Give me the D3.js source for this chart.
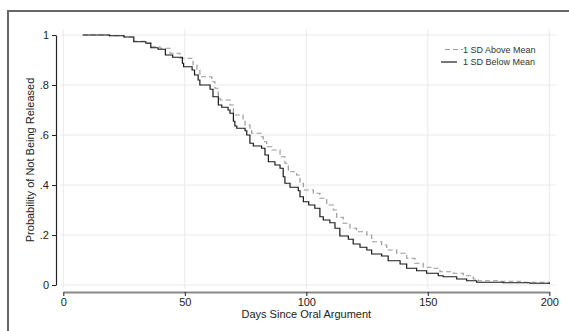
<!DOCTYPE html>
<html lang="en">
<head>
<meta charset="utf-8">
<title>Survival curves</title>
<script src="https://cdn.jsdelivr.net/npm/d3@7"></script>
<style>
body { margin: 0; background: #fff; }
svg { display: block; font-family: "Liberation Sans", Arial, sans-serif; }
</style>
</head>
<body>
<script>
var width = 569, height = 331;

// step points: day, probability of not being released
var aboveDays = [8,19,25,29,34,36,39.8,43.9,48,53.4,55,56.2,61.1,62.4,63.8,64.5,68.6,70,74,74.8,76.8,77.5,81.6,82.3,83.7,85.8,89.2,91.2,92.6,96,97.4,98.8,102.9,105.6,108.4,111.1,112.5,115.2,118,120.7,124.9,126.9,131,133.1,137.2,141.3,144.7,148.1,151.6,155,160.5,164.6,168.7,170.8,179.7,188,200];
var aboveProb = [1,0.997,0.992,0.975,0.969,0.953,0.947,0.927,0.907,0.88,0.86,0.833,0.813,0.787,0.753,0.74,0.72,0.68,0.66,0.64,0.62,0.607,0.593,0.573,0.553,0.54,0.513,0.487,0.453,0.44,0.407,0.38,0.367,0.347,0.32,0.30,0.271,0.247,0.227,0.213,0.20,0.173,0.16,0.14,0.127,0.107,0.087,0.071,0.067,0.053,0.047,0.037,0.024,0.017,0.015,0.011,0.004];

var belowDays = [8,19,25,29,34,36,39,42,45,49,49.5,53,54,55.5,56.2,60.4,61.6,63.8,65.2,67.8,68.6,70,70.6,71.4,74.8,75.5,76.8,78.2,81.6,83,84.4,87.1,89.2,90.5,91.2,93.3,96.7,97.4,98.8,101,103.5,105.6,107,109.7,111.8,113.8,117.3,119.3,122.1,124.9,126.9,131,133.7,138.6,141.3,145.4,149.5,154.3,156.3,161.9,166,170.1,181,192,200];
var belowProb = [1,0.997,0.992,0.973,0.967,0.949,0.943,0.92,0.911,0.887,0.873,0.86,0.84,0.82,0.80,0.783,0.753,0.72,0.711,0.70,0.687,0.655,0.636,0.627,0.617,0.60,0.567,0.556,0.547,0.52,0.493,0.48,0.467,0.433,0.407,0.391,0.377,0.353,0.333,0.32,0.307,0.273,0.26,0.249,0.227,0.196,0.183,0.164,0.151,0.14,0.124,0.116,0.097,0.084,0.067,0.057,0.047,0.037,0.033,0.024,0.017,0.011,0.009,0.007,0.004];

var xTicks = [0, 50, 100, 150, 200];
var yTicks = [0, 0.2, 0.4, 0.6, 0.8, 1];
var yTickLabels = ["0", ".2", ".4", ".6", ".8", "1"];
var seriesNames = ["1 SD Above Mean", "1 SD Below Mean"];

var svg = d3.select("body").append("svg")
    .attr("width", width).attr("height", height);

// outer frame (cut off at right and bottom)
svg.append("rect")
    .attr("x", 8).attr("y", 11).attr("width", 620).attr("height", 400)
    .attr("fill", "none").attr("stroke", "#666").attr("stroke-width", 2);

var x = d3.scaleLinear().domain([0, 200]).range([63.3, 549.3]);
var y = d3.scaleLinear().domain([0, 1]).range([285, 35]);

// grid
svg.append("g").selectAll("line").data(yTicks).join("line")
    .attr("x1", 60).attr("x2", 556)
    .attr("y1", d => y(d)).attr("y2", d => y(d))
    .attr("stroke", "#eaeaea").attr("stroke-width", 1);
svg.append("g").selectAll("line").data(xTicks).join("line")
    .attr("x1", d => x(d)).attr("x2", d => x(d))
    .attr("y1", 29).attr("y2", 289)
    .attr("stroke", "#eaeaea").attr("stroke-width", 1);

// axes
var yAxis = svg.append("g").attr("transform", "translate(56,0)")
    .call(d3.axisLeft(y).tickValues(yTicks).tickSize(4).tickSizeOuter(0).tickPadding(3)
        .tickFormat((d, i) => yTickLabels[i]));
yAxis.select(".domain").attr("stroke", "#222").attr("stroke-width", 1.2);
yAxis.selectAll(".tick line").attr("stroke", "#222");
yAxis.selectAll("text").attr("font-size", 11).attr("fill", "#222")
    .attr("font-family", "Liberation Sans, Arial, sans-serif");

var xAxis = svg.append("g").attr("transform", "translate(0,292)")
    .call(d3.axisBottom(x).tickValues(xTicks).tickSize(4).tickSizeOuter(0).tickPadding(2));
xAxis.select(".domain").attr("stroke", "#888").attr("stroke-width", 2);
xAxis.selectAll(".tick line").attr("stroke", "#222");
xAxis.selectAll("text").attr("font-size", 11).attr("fill", "#222")
    .attr("font-family", "Liberation Sans, Arial, sans-serif");

svg.append("text")
    .attr("x", x(100)).attr("y", 318)
    .attr("text-anchor", "middle").attr("font-size", 11).attr("fill", "#222")
    .text("Days Since Oral Argument");
svg.append("text")
    .attr("transform", "translate(34," + y(0.5) + ") rotate(-90)")
    .attr("text-anchor", "middle").attr("font-size", 11).attr("fill", "#222")
    .text("Probability of Not Being Released");

// curves
var line = d3.line().curve(d3.curveStepAfter).x(d => x(d[0])).y(d => y(d[1]));
var above = d3.zip(aboveDays, aboveProb);
var below = d3.zip(belowDays, belowProb);

svg.append("path").datum(above)
    .attr("d", line).attr("fill", "none")
    .attr("stroke", "#9a9a9a").attr("stroke-width", 1.2).attr("stroke-dasharray", "5,3");
svg.append("path").datum(below)
    .attr("d", line).attr("fill", "none")
    .attr("stroke", "#1a1a1a").attr("stroke-width", 1.2);

// legend
var legend = svg.append("g");
legend.append("line").attr("x1", 445).attr("x2", 463).attr("y1", 49.5).attr("y2", 49.5)
    .attr("stroke", "#9a9a9a").attr("stroke-width", 1.2).attr("stroke-dasharray", "5,3");
legend.append("line").attr("x1", 441).attr("x2", 457).attr("y1", 62).attr("y2", 62)
    .attr("stroke", "#1a1a1a").attr("stroke-width", 1.2);
legend.selectAll("text").data(seriesNames).join("text")
    .attr("x", 463).attr("y", (d, i) => 52.5 + i * 12.5)
    .attr("font-size", 9).attr("fill", "#333")
    .text(d => d);
</script>
</body>
</html>
